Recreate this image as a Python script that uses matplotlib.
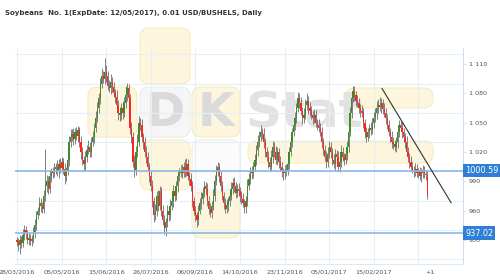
"""Soybeans No. 1 daily candles with two price levels and a falling trend line."""
import matplotlib
matplotlib.use("Agg")
import matplotlib.pyplot as plt
from matplotlib.patches import FancyBboxPatch
from matplotlib.transforms import Affine2D, blended_transform_factory
import numpy as np

TITLE = "Soybeans  No. 1(ExpDate: 12/05/2017), 0.01 USD/BUSHELS, Daily"

# ------------------------------- data ---------------------------------------
first_open = 930
closes = [
    928, 925, 930, 927, 935, 940, 937, 930, 932, 929,
    931, 938, 945, 955, 960, 968, 965, 962, 975, 985,
    990, 982, 995, 1000, 998, 1003, 1005, 1000, 1008, 1004,
    1010, 1003, 995, 1000, 1012, 1030, 1035, 1038, 1033, 1040,
    1036, 1042, 1030, 1020, 1012, 1008, 1015, 1022, 1025, 1020,
    1030, 1035, 1045, 1055, 1065, 1075, 1090, 1098, 1095, 1102,
    1098, 1088, 1085, 1092, 1086, 1080, 1076, 1068, 1060, 1058,
    1065, 1060, 1070, 1078, 1085, 1075, 1045, 1035, 1010, 1002,
    1020, 1030, 1050, 1048, 1035, 1030, 1020, 1015, 1005, 995,
    985, 970, 955, 960, 975, 965, 980, 960, 950, 942,
    948, 960, 955, 965, 970, 980, 975, 985, 995, 998,
    1002, 998, 1005, 1000, 1008, 995, 992, 985, 970, 960,
    955, 950, 960, 968, 972, 978, 985, 982, 970, 962,
    958, 965, 975, 990, 1000, 1005, 995, 985, 975, 968,
    962, 966, 970, 975, 982, 988, 985, 978, 982, 980,
    975, 972, 968, 964, 970, 985, 992, 1000, 998, 1005,
    1012, 1022, 1030, 1035, 1040, 1038, 1030, 1020, 1015, 1010,
    1005, 1015, 1025, 1020, 1012, 1020, 1010, 1005, 1000, 998,
    1002, 1000, 1008, 1020, 1030, 1040, 1048, 1055, 1065, 1075,
    1070, 1062, 1055, 1058, 1068, 1072, 1065, 1062, 1058, 1055,
    1058, 1050, 1048, 1045, 1040, 1030, 1022, 1015, 1010, 1018,
    1025, 1020, 1012, 1008, 1018, 1015, 1005, 1010, 1020, 1015,
    1012, 1018, 1025, 1040, 1060, 1075, 1082, 1078, 1072, 1070,
    1065, 1062, 1060, 1050, 1040, 1035, 1040, 1045, 1042, 1050,
    1055, 1060, 1065, 1068, 1066, 1070, 1064, 1060, 1055, 1048,
    1040, 1035, 1030, 1028, 1025, 1030, 1040, 1048, 1045, 1040,
    1035, 1030, 1020, 1015, 1010, 1005, 1002, 1000, 1003, 998,
    1000, 995, 998, 1002, 997, 996, 975]
wick_up = [
    3, 4, 5, 4, 6, 5, 4, 3, 5, 4,
    4, 5, 6, 5, 4, 6, 5, 4, 6, 38,
    6, 5, 7, 4, 5, 6, 4, 7, 5, 6,
    5, 4, 6, 5, 7, 6, 8, 5, 6, 5,
    6, 5, 4, 6, 5, 4, 6, 5, 7, 5,
    5, 6, 5, 7, 6, 5, 6, 8, 5, 14,
    7, 5, 6, 8, 5, 6, 4, 7, 5, 6,
    5, 7, 6, 9, 6, 5, 4, 6, 5, 7,
    6, 8, 7, 5, 6, 4, 5, 6, 5, 4,
    5, 6, 4, 7, 5, 6, 5, 4, 6, 5,
    4, 6, 5, 7, 5, 6, 4, 5, 7, 6,
    5, 6, 5, 8, 6, 5, 4, 6, 5, 4,
    5, 4, 6, 5, 7, 6, 5, 4, 6, 5,
    6, 5, 7, 6, 7, 5, 4, 6, 5, 4,
    5, 6, 4, 5, 7, 5, 6, 4, 5, 6,
    4, 5, 6, 4, 5, 7, 6, 5, 6, 5,
    6, 5, 7, 6, 8, 5, 6, 4, 5, 6,
    5, 7, 6, 5, 6, 5, 4, 6, 5, 4,
    5, 6, 7, 5, 6, 5, 7, 6, 5, 6,
    5, 6, 4, 7, 6, 8, 5, 6, 5, 4,
    6, 5, 4, 6, 5, 6, 4, 5, 6, 7,
    6, 5, 4, 6, 5, 4, 6, 5, 7, 5,
    4, 5, 6, 7, 6, 5, 6, 5, 4, 6,
    5, 4, 6, 5, 4, 6, 5, 4, 6, 5,
    6, 5, 7, 6, 8, 5, 4, 6, 5, 4,
    5, 4, 6, 5, 4, 5, 6, 5, 4, 6,
    5, 4, 6, 5, 4, 6, 5, 4, 6, 5,
    4, 5, 6, 5, 4, 5, 4]
wick_dn = [
    4, 6, 9, 5, 4, 5, 6, 4, 5, 4,
    5, 4, 6, 5, 4, 5, 6, 5, 4, 5,
    6, 5, 4, 6, 5, 4, 6, 5, 7, 6,
    5, 6, 8, 5, 4, 6, 5, 4, 6, 5,
    4, 6, 5, 7, 5, 8, 6, 5, 4, 5,
    5, 4, 6, 5, 4, 5, 6, 5, 4, 5,
    6, 5, 4, 6, 5, 4, 6, 5, 7, 6,
    5, 6, 4, 5, 6, 5, 7, 6, 5, 8,
    6, 5, 4, 6, 5, 7, 5, 6, 5, 6,
    5, 6, 7, 5, 6, 5, 4, 6, 5, 6,
    8, 5, 6, 5, 4, 6, 5, 4, 6, 5,
    4, 5, 4, 6, 5, 4, 6, 5, 6, 5,
    6, 7, 5, 4, 6, 5, 4, 6, 5, 6,
    5, 6, 4, 5, 4, 5, 6, 5, 4, 6,
    5, 4, 6, 5, 4, 5, 6, 5, 4, 5,
    6, 5, 4, 7, 6, 5, 4, 5, 6, 5,
    4, 5, 6, 5, 4, 5, 6, 5, 4, 6,
    5, 4, 6, 5, 4, 5, 6, 5, 6, 7,
    6, 5, 4, 5, 4, 5, 4, 6, 5, 4,
    5, 4, 6, 5, 4, 5, 6, 5, 4, 6,
    5, 4, 6, 5, 4, 6, 5, 4, 6, 5,
    4, 6, 5, 4, 6, 5, 4, 6, 5, 4,
    5, 4, 6, 5, 4, 5, 4, 6, 5, 4,
    5, 6, 4, 5, 6, 5, 4, 6, 5, 4,
    5, 4, 6, 5, 4, 6, 5, 4, 6, 5,
    4, 5, 6, 5, 4, 5, 6, 5, 4, 6,
    5, 6, 4, 5, 6, 5, 4, 6, 5, 4,
    5, 4, 6, 5, 4, 5, 3]

date_ticks = [0, 30, 60, 90, 120, 150, 180, 210, 240, 278]
date_labels = ["28/03/2016", "05/05/2016", "15/06/2016", "26/07/2016",
               "06/09/2016", "14/10/2016", "23/11/2016", "05/01/2017",
               "15/02/2017", "+1"]
price_ticks = [930, 960, 990, 1020, 1050, 1080, 1110]
price_labels = ["930", "960", "990", "1 020", "1 050", "1 080", "1 110"]
levels = [1000.59, 937.02]
level_labels = ["1000.59", "937.02"]
trend_x = [245.5, 292]
trend_y = [1085, 968]

# ------------------------------ figure --------------------------------------
W, H = 500, 280
fig = plt.figure(figsize=(W / 100, H / 100), dpi=100)
fig.patch.set_facecolor("white")
px = Affine2D().scale(1, -1).translate(0, H)      # pixel coords, origin top-left


def box(x0, y0, x1, y1, fc, ec):
    p = FancyBboxPatch((x0, y0), x1 - x0, y1 - y0,
                       boxstyle="round,pad=0,rounding_size=9",
                       fc=fc, ec=ec, lw=0.8, transform=px, zorder=-2)
    fig.add_artist(p)


# faint logo watermark behind the plot
yellow, yedge = "#fdf6dc", "#f7ecc0"
box(140, 28, 190, 84, yellow, yedge)
box(88, 87, 137, 137, yellow, yedge)
box(140, 87, 190, 137, "#f6f6f6", "#ececec")
box(192, 87, 240, 137, yellow, yedge)
box(140, 140, 190, 190, yellow, yedge)
box(192, 140, 240, 190, "#fbfbfb", "#eeeeee")
box(192, 192, 240, 238, yellow, yedge)
box(248, 141, 433, 163, yellow, yedge)
box(345, 88, 433, 108, yellow, yedge)
for s, x in [("D", 165), ("K", 216)]:
    fig.add_artist(plt.Text(x, 113, s, transform=px, ha="center", va="center",
                            fontsize=34, fontweight="bold", color="#dadada",
                            zorder=-1))
fig.add_artist(plt.Text(245, 113, "Stat", transform=px, ha="left", va="center",
                        fontsize=36, fontweight="bold", color="#e2e2e2",
                        zorder=-1))

fig.text(5, 13, TITLE, transform=px, fontsize=5.0, fontweight="bold",
         color="#333333", va="center")

ax = fig.add_axes([15 / W, 16 / H, 448 / W, 216 / H])
ax.set_facecolor("none")
ax.set_xlim(-1.35, 300)
ax.set_ylim(905.3, 1126.4)

for x in range(0, 300, 30):
    ax.axvline(x, color="#e6eef7", lw=0.8, zorder=0)
for y in range(910, 1130, 30):
    ax.axhline(y, color="#e6eef7", lw=0.8, zorder=0)

# candles
c = np.array(closes, float)
o = np.concatenate([[first_open], c[:-1]])
hi = np.maximum(o, c) + np.array(wick_up)
lo = np.minimum(o, c) - np.array(wick_dn)
idx = np.arange(len(c))
colors = np.where(c >= o, "#3d8a2a", "#ff2424")
ax.vlines(idx, lo, hi, color="#6e6e6e", lw=0.6, zorder=2)
ax.bar(idx, np.maximum(np.abs(c - o), 0.8), bottom=np.minimum(o, c),
       width=0.85, color=colors, lw=0, zorder=3)

# levels and trend line
blend = blended_transform_factory(ax.transAxes, ax.transData)
for lv, lab in zip(levels, level_labels):
    ax.axhline(lv, color="#8db8e6", lw=1.2, zorder=4)
    ax.text(1.005, lv, lab, transform=blend, ha="left", va="center",
            fontsize=5.9, color="white", zorder=6, clip_on=False,
            bbox=dict(boxstyle="square,pad=0.25", fc="#2f7fd6", ec="none"))
ax.plot(trend_x, trend_y, color="#333333", lw=0.8, zorder=5)

# axes
for side in ("top", "left"):
    ax.spines[side].set_visible(False)
ax.spines["right"].set_color("#cfe0f2")
ax.spines["bottom"].set_color("#dfe9f4")
ax.yaxis.tick_right()
ax.set_yticks(price_ticks)
ax.set_yticklabels(price_labels)
ax.set_xticks(date_ticks)
ax.set_xticklabels(date_labels)
ax.tick_params(axis="y", length=2, width=0.6, color="#cfe0f2", pad=2,
               labelsize=4.6, labelcolor="#555555")
ax.tick_params(axis="x", length=0, pad=4, labelsize=4.6, labelcolor="#555555")

fig.savefig("out.png", dpi=100)
